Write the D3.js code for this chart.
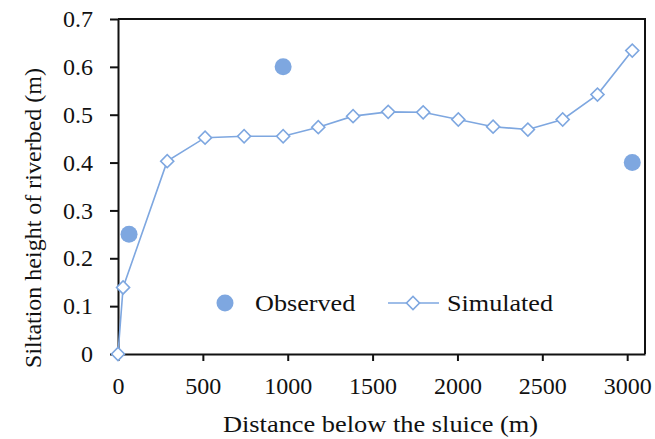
<!DOCTYPE html>
<html>
<head>
<meta charset="utf-8">
<script src="https://cdn.jsdelivr.net/npm/d3@7"></script>
<style>
  body { margin: 0; background: #fff; }
  svg text { font-family: "Liberation Serif", "Times New Roman", serif; fill: #111; }
</style>
</head>
<body>
<div id="chart"></div>
<script>
// data
const simDistance = [0, 30, 290, 513, 743, 973, 1180, 1385, 1592, 1798, 2005, 2210, 2415, 2620, 2825, 3030];
const simHeight = [0, 0.139, 0.403, 0.452, 0.455, 0.455, 0.474, 0.497, 0.506, 0.505, 0.490, 0.475, 0.469, 0.490, 0.542, 0.634];
const obsDistance = [65, 973, 3030];
const obsHeight = [0.25, 0.6, 0.4];
const xTicks = [0, 500, 1000, 1500, 2000, 2500, 3000];
const yTicks = [0, 0.1, 0.2, 0.3, 0.4, 0.5, 0.6, 0.7];

const margin = { left: 118, right: 10, top: 19, bottom: 85 };
const width = 655 - margin.left - margin.right;
const height = 439 - margin.top - margin.bottom;
const blue = '#7ea7e0';
const fontFamily = '"Liberation Serif", "Times New Roman", serif';

let svg = d3.select('#chart')
  .append('svg')
  .attr('width', 655)
  .attr('height', 439);

let g = svg.append('g')
  .attr('transform', `translate(${margin.left}, ${margin.top})`);

//scales
let x = d3.scaleLinear().domain([0, 3105]).range([0, width]);
let y = d3.scaleLinear().domain([0, 0.7]).range([height, 0]);

//frame (top and right)
g.append('path')
  .attr('d', `M0,0H${width}V${height}`)
  .attr('fill', 'none')
  .attr('stroke', '#111')
  .attr('stroke-width', 2);

//x axis
const xAxis = d3.axisBottom(x).tickValues(xTicks).tickSize(7).tickSizeOuter(0).tickPadding(16)
  .tickFormat(d3.format('d'));
g.append('g')
  .attr('class', 'x axis')
  .attr('transform', `translate(0, ${height})`)
  .call(xAxis);

//y axis
const yAxis = d3.axisLeft(y).tickValues(yTicks).tickSize(8).tickSizeOuter(0).tickPadding(17)
  .tickFormat(d => d === 0 ? '0' : d3.format('.1f')(d));
g.append('g')
  .attr('class', 'y axis')
  .call(yAxis);

g.selectAll('.axis').attr('font-family', null).attr('font-size', null);
g.selectAll('.axis path.domain').attr('stroke', '#111').attr('stroke-width', 2);
g.selectAll('.axis .tick line').attr('stroke', '#111').attr('stroke-width', 2);
g.selectAll('.axis text')
  .style('font-family', fontFamily)
  .style('font-size', '24px')
  .attr('fill', '#111');

//simulated line
const sim = simDistance.map((d, i) => ({ x: d, y: simHeight[i] }));
const line = d3.line().x(d => x(d.x)).y(d => y(d.y));
g.append('path')
  .datum(sim)
  .attr('d', line)
  .attr('fill', 'none')
  .attr('stroke', blue)
  .attr('stroke-width', 1.6);

const diamond = d3.symbol().type(d3.symbolSquare).size(85);
g.selectAll('.sim')
  .data(sim)
  .enter()
  .append('path')
  .attr('class', 'sim')
  .attr('d', diamond)
  .attr('transform', d => `translate(${x(d.x)}, ${y(d.y)}) rotate(45)`)
  .attr('fill', '#fff')
  .attr('stroke', blue)
  .attr('stroke-width', 1.6);

//observed points
const obs = obsDistance.map((d, i) => ({ x: d, y: obsHeight[i] }));
g.selectAll('.obs')
  .data(obs)
  .enter()
  .append('circle')
  .attr('class', 'obs')
  .attr('cx', d => x(d.x))
  .attr('cy', d => y(d.y))
  .attr('r', 8.5)
  .attr('fill', blue);

//legend (text a bit wider, like the picture)
const legend = svg.append('g');
legend.append('circle').attr('cx', 225).attr('cy', 303).attr('r', 8.5).attr('fill', blue);
legend.append('text')
  .attr('transform', 'translate(255, 311) scale(1.09, 1)')
  .style('font-size', '24px')
  .text('Observed');
legend.append('line').attr('x1', 388).attr('x2', 439).attr('y1', 303).attr('y2', 303)
  .attr('stroke', blue).attr('stroke-width', 1.6);
legend.append('path').attr('d', diamond)
  .attr('transform', 'translate(413, 303) rotate(45)')
  .attr('fill', '#fff').attr('stroke', blue).attr('stroke-width', 1.6);
legend.append('text')
  .attr('transform', 'translate(447, 311) scale(1.09, 1)')
  .style('font-size', '24px')
  .text('Simulated');

//Labels
svg.append('text')
  .attr('transform', `translate(${margin.left + width / 2 - 1}, 432) scale(1.1, 1)`)
  .attr('text-anchor', 'middle')
  .style('font-size', '24px')
  .text('Distance below the sluice (m)');

svg.append('text')
  .attr('transform', 'rotate(-90)')
  .attr('x', -218)
  .attr('y', 41)
  .attr('text-anchor', 'middle')
  .style('font-size', '24px')
  .text('Siltation height of riverbed (m)');
</script>
</body>
</html>
